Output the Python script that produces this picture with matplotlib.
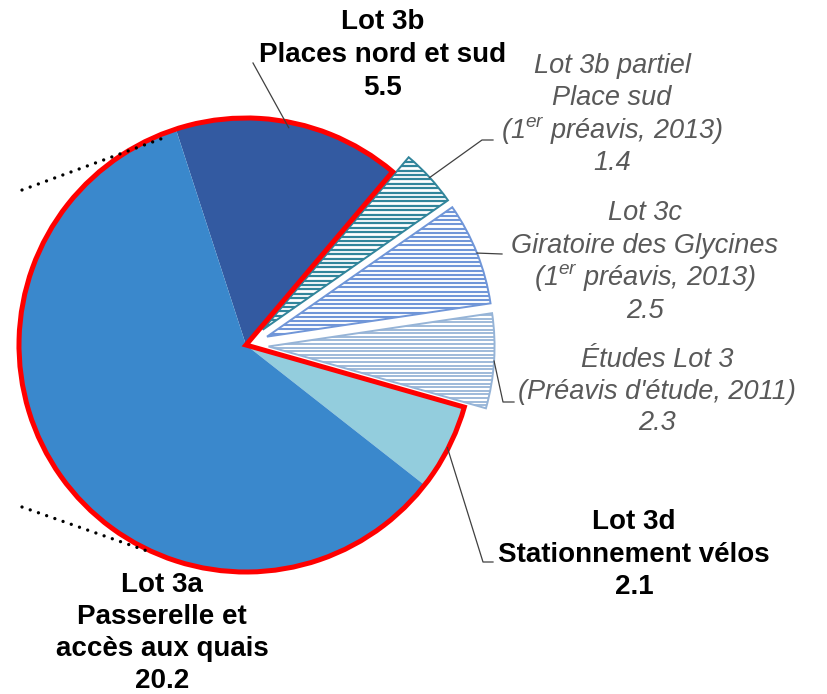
import numpy as np
import matplotlib
matplotlib.use("Agg")
import matplotlib.pyplot as plt
from matplotlib.patches import Wedge

plt.rcParams['mathtext.fontset'] = 'custom'
plt.rcParams['mathtext.rm'] = 'Liberation Sans:italic'
plt.rcParams['mathtext.it'] = 'Liberation Sans:italic'

# ---- data (clockwise from top) ----
names = ["Lot 3b", "Lot 3b partiel", "Lot 3c", "Études Lot 3", "Lot 3d", "Lot 3a"]
values = [5.5, 1.4, 2.5, 2.3, 2.1, 20.2]
label_lines = [
    ["Lot 3b", "Places nord et sud", "5.5"],
    ["Lot 3b partiel", "Place sud", r"($\mathregular{1^{er}}$ préavis, 2013)", "1.4"],
    ["Lot 3c", "Giratoire des Glycines", r"($\mathregular{1^{er}}$ préavis, 2013)", "2.5"],
    ["Études Lot 3", "(Préavis d'étude, 2011)", "2.3"],
    ["Lot 3d", "Stationnement vélos", "2.1"],
    ["Lot 3a", "Passerelle et", "accès aux quais", "20.2"],
]
hatched = [False, True, True, True, False, False]
colors = ["#335AA1", "#31859B", "#7096D8", "#96B4D7", "#93CDDD", "#3A88CC"]

W, H = 827, 694
fig = plt.figure(figsize=(W / 100, H / 100), dpi=100)
ax = fig.add_axes([0, 0, 1, 1])

def Y(y):
    return H - y

CX, CY, R = 246, Y(345), 226
explode = [0.1 * R if h else 0 for h in hatched]   # pie explode is in data units

wedges, _ = ax.pie(values, colors=colors, startangle=108, counterclock=False,
                   radius=R, center=(CX, CY), explode=explode,
                   wedgeprops=dict(linewidth=0), frame=True)
ax.set_xlim(0, W)
ax.set_ylim(0, H)
ax.set_aspect('equal')
ax.axis('off')

hatch_sp = {1: 4.4, 2: 4.2, 3: 3.6}
hatch_lw = {1: 1.6, 2: 1.5, 3: 1.3}
for i, w in enumerate(wedges):
    if hatched[i]:
        w.set_facecolor('white')
        w.set_edgecolor(colors[i])
        w.set_linewidth(1.4)
        w.set_zorder(2)
        cx, cy = w.center
        ys = np.arange(cy - R - 2, cy + R + 2, hatch_sp[i])
        lc = ax.hlines(ys, cx - R - 2, cx + R + 2, colors=colors[i],
                       linewidth=hatch_lw[i], zorder=2.5)
        lc.set_clip_path(w)

# red outline around non-exploded part
a1 = wedges[0].theta1
a2 = wedges[3].theta1
ax.add_patch(Wedge((CX, CY), R + 1, a1, a2 + 360, fill=False, edgecolor='#FF0000',
                   linewidth=3.6, joinstyle='miter', zorder=5))

# dotted connector lines on the left (ending on the red outline)
for (x0, y0), (x1, y1) in [((22, 190), (166, 137)), ((22, 507), (150, 552))]:
    ax.plot([x0, x1], [Y(y0), Y(y1)], color='black', linewidth=2.4,
            linestyle=(0, (0.01, 2.6)), dash_capstyle='round', zorder=5.5)

# leader lines
def arc_point(i, rfrac=1.0):
    w = wedges[i]
    m = np.deg2rad((w.theta1 + w.theta2) / 2)
    cx, cy = w.center
    return cx + R * rfrac * np.cos(m), cy + R * rfrac * np.sin(m)

leaders = {
    0: ([(253, 63)], 0.98),
    1: ([(482, 140), (493, 140)], 1.0),
    2: ([(502, 254)], 1.0),
    3: ([(503, 402), (514, 402)], 1.0),
    4: ([(483, 562), (493, 562)], 1.0),
}
for i, (pts, rf) in leaders.items():
    sx, sy = arc_point(i, rf)
    xs = [sx] + [p[0] for p in pts]
    ys = [sy] + [Y(p[1]) for p in pts]
    ax.plot(xs, ys, color='#404040', linewidth=0.9, zorder=6)

# labels: center x, baselines
label_pos = [
    (383, [29, 62, 95]),
    (612, [73, 105, 138, 170]),
    (645, [220, 253, 285, 318]),
    (657, [367, 399, 430]),
    (634, [529, 562, 594]),
    (162, [592, 624, 656, 688]),
]
for i, lines in enumerate(label_lines):
    x, bls = label_pos[i]
    if hatched[i]:
        kw = dict(fontstyle='italic', color='#595959', fontweight='normal', fontsize=19.5)
    else:
        kw = dict(fontweight='bold', color='black', fontsize=20)
    for line, b in zip(lines, bls):
        ax.text(x, Y(b), line, ha='center', va='baseline',
                family='Liberation Sans', zorder=7, **kw)

fig.savefig("out.png", dpi=100)
